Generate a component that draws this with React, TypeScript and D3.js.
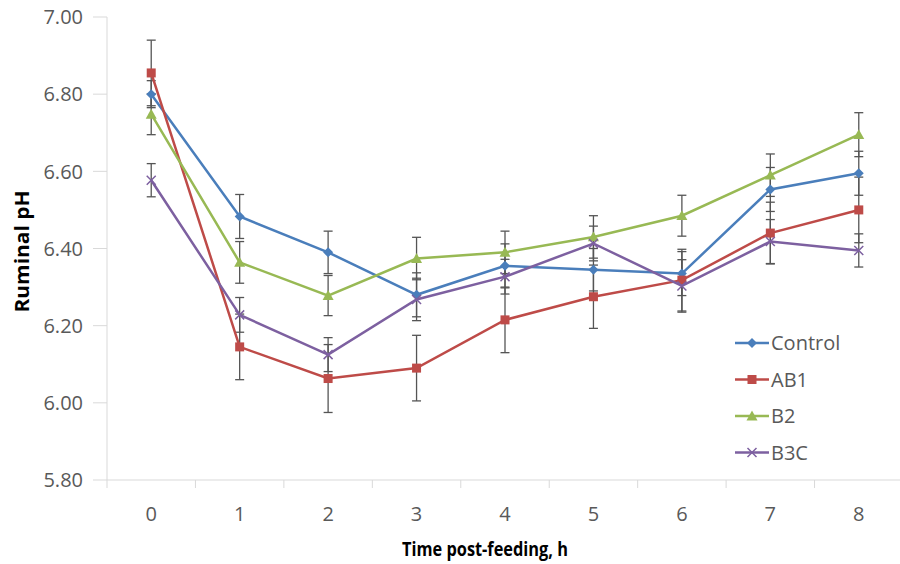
import React from "react";
import * as d3 from "d3";

const hours = ["0", "1", "2", "3", "4", "5", "6", "7", "8"];
const seriesNames = ["Control", "AB1", "B2", "B3C"];
const controlValues = [6.8, 6.483, 6.39, 6.28, 6.355, 6.345, 6.335, 6.553, 6.595];
const ab1Values = [6.855, 6.145, 6.063, 6.09, 6.215, 6.275, 6.318, 6.44, 6.5];
const b2Values = [6.748, 6.364, 6.278, 6.374, 6.39, 6.43, 6.485, 6.59, 6.695];
const b3cValues = [6.577, 6.228, 6.125, 6.268, 6.327, 6.413, 6.303, 6.418, 6.395];
const controlSE = [0.035, 0.057, 0.055, 0.057, 0.057, 0.055, 0.057, 0.057, 0.057];
const ab1SE = [0.085, 0.085, 0.088, 0.085, 0.085, 0.082, 0.08, 0.08, 0.085];
const b2SE = [0.053, 0.054, 0.052, 0.055, 0.055, 0.055, 0.053, 0.055, 0.057];
const b3cSE = [0.043, 0.045, 0.044, 0.055, 0.045, 0.045, 0.068, 0.057, 0.043];
const yTicks = [5.8, 6.0, 6.2, 6.4, 6.6, 6.8, 7.0];

const colors = ["#4A7EBB", "#BE4B48", "#98B954", "#7D60A0"];
const markers = ["diamond", "square", "triangle", "cross"];

const W = 900;
const H = 564;
const left = 107;
const right = 903;
const top = 17;
const bottom = 480;

function Marker({ type, x, y, color }: { type: string; x: number; y: number; color: string }) {
  if (type === "diamond") {
    const r = 5;
    return <path d={`M${x},${y - r}L${x + r},${y}L${x},${y + r}L${x - r},${y}Z`} fill={color} />;
  }
  if (type === "square") {
    const r = 4.5;
    return <rect x={x - r} y={y - r} width={2 * r} height={2 * r} fill={color} />;
  }
  if (type === "triangle") {
    const r = 5.5;
    return <path d={`M${x},${y - r}L${x + r},${y + r * 0.8}L${x - r},${y + r * 0.8}Z`} fill={color} />;
  }
  const r = 4.5;
  return (
    <path
      d={`M${x - r},${y - r}L${x + r},${y + r}M${x - r},${y + r}L${x + r},${y - r}`}
      stroke={color}
      strokeWidth={1.5}
      fill="none"
    />
  );
}

export default function App() {
  const x = d3.scaleBand<string>().domain(hours).range([left, right]).padding(0);
  const y = d3.scaleLinear().domain([5.8, 7.0]).range([bottom, top]);
  const cx = (h: string) => (x(h) as number) + x.bandwidth() / 2;

  const series = [
    { name: seriesNames[0], values: controlValues, se: controlSE },
    { name: seriesNames[1], values: ab1Values, se: ab1SE },
    { name: seriesNames[2], values: b2Values, se: b2SE },
    { name: seriesNames[3], values: b3cValues, se: b3cSE },
  ];

  const line = d3
    .line<number>()
    .x((_, i) => cx(hours[i]))
    .y((d) => y(d));

  const font = "'Open Sans', 'Liberation Sans', sans-serif";
  const tickColor = "#595959";
  const axisColor = "#D9D9D9";

  return (
    <svg
      width={W}
      height={H}
      style={{ position: "absolute", left: 0, top: 0, background: "#fff" }}
      fontFamily={font}
    >
      <rect width={W} height={H} fill="#fff" />
      {/* Y axis */}
      <line x1={left} x2={left} y1={top} y2={bottom} stroke={axisColor} strokeWidth={1} />
      {yTicks.map((t) => (
        <g key={t}>
          <line x1={left - 14} x2={left} y1={y(t)} y2={y(t)} stroke={axisColor} strokeWidth={1} />
          <text
            x={83}
            y={y(t)}
            dy="0.36em"
            textAnchor="end"
            fontSize={20}
            fill={tickColor}
          >
            {t.toFixed(2)}
          </text>
        </g>
      ))}
      {/* X axis */}
      <line x1={left} x2={W} y1={bottom} y2={bottom} stroke={axisColor} strokeWidth={1} />
      {hours.map((h, i) => (
        <line
          key={"t" + h}
          x1={(x(h) as number)}
          x2={(x(h) as number)}
          y1={bottom}
          y2={bottom + 8}
          stroke={axisColor}
          strokeWidth={1}
        />
      ))}
      {hours.map((h) => (
        <text key={"l" + h} x={cx(h)} y={521} textAnchor="middle" fontSize={20} fill={tickColor}>
          {h}
        </text>
      ))}
      {/* Axis titles */}
      <text
        x={485}
        y={556}
        textAnchor="middle"
        fontSize={20}
        fontWeight="bold"
        fill="#000"
        textLength={166}
        lengthAdjust="spacingAndGlyphs"
      >
        Time post-feeding, h
      </text>
      <text
        transform={`translate(29,${(top + bottom) / 2 + 3}) rotate(-90)`}
        textAnchor="middle"
        fontSize={20}
        fontWeight="bold"
        fill="#000"
        textLength={122}
        lengthAdjust="spacingAndGlyphs"
      >
        Ruminal pH
      </text>
      {/* Error bars */}
      {series.map((s, si) => (
        <g key={"e" + si}>
          {s.values.map((v, i) => {
            const px = cx(hours[i]);
            const y1 = y(v + s.se[i]);
            const y2 = y(v - s.se[i]);
            return (
              <g key={i} stroke="#555" strokeWidth={1.3}>
                <line x1={px} x2={px} y1={y1} y2={y2} />
                <line x1={px - 4.5} x2={px + 4.5} y1={y1} y2={y1} />
                <line x1={px - 4.5} x2={px + 4.5} y1={y2} y2={y2} />
              </g>
            );
          })}
        </g>
      ))}
      {/* Lines and markers */}
      {series.map((s, si) => (
        <g key={"s" + si}>
          <path d={line(s.values) as string} fill="none" stroke={colors[si]} strokeWidth={2.5} />
          {s.values.map((v, i) => (
            <Marker key={i} type={markers[si]} x={cx(hours[i])} y={y(v)} color={colors[si]} />
          ))}
        </g>
      ))}
      {/* Legend */}
      {series.map((s, si) => {
        const ly = 343 + si * 36.5;
        return (
          <g key={"lg" + si}>
            <line x1={735} x2={769} y1={ly} y2={ly} stroke={colors[si]} strokeWidth={2.5} />
            <Marker type={markers[si]} x={752} y={ly} color={colors[si]} />
            <text x={771} y={ly} dy="0.36em" fontSize={20} fill={tickColor}>
              {s.name}
            </text>
          </g>
        );
      })}
    </svg>
  );
}
